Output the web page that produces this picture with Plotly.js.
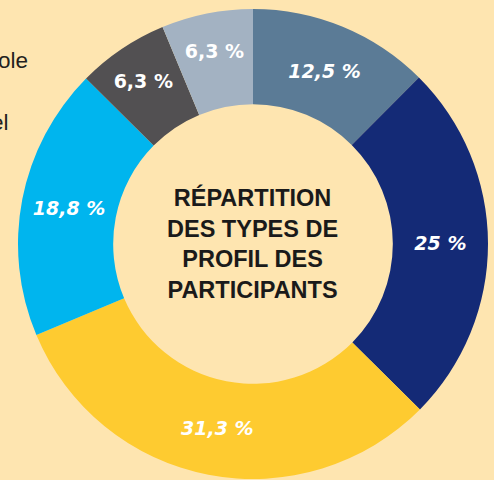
<!DOCTYPE html>
<html>
<head>
<meta charset="utf-8">
<script src="https://cdn.plot.ly/plotly-3.0.1.min.js"></script>
<style>html,body{margin:0;padding:0;background:#fee5b0;}#chart{width:494px;height:480px;}</style>
</head>
<body>
<div id="chart"></div>
<script>
const categories = ["Profil A", "Profil B", "Profil C", "Profil D", "Profil E", "Profil F"];
const values = [12.5, 25, 31.3, 18.8, 6.3, 6.3];
const valueLabels = ["12,5 %", "25 %", "31,3 %", "18,8 %", "6,3 %", "6,3 %"];
const colors = ["#5b7b96", "#142a76", "#fecb30", "#00b5ee", "#525052", "#a3b2c2"];
const centerTitle = ["RÉPARTITION", "DES TYPES DE", "PROFIL DES", "PARTICIPANTS"];
const sideTexts = ["ole", "el"];

const texts = valueLabels.map((t, i) => i >= 4 ? t : "<i>" + t + "</i>");

const W = 494, H = 480, cx = 253, cy = 244, R = 235;

const trace = {
  type: "pie",
  labels: categories,
  values: values,
  text: texts,
  textinfo: "text",
  texttemplate: "%{text}",
  textposition: "inside",
  insidetextorientation: "horizontal",
  sort: false,
  direction: "clockwise",
  rotation: 0,
  hole: 0.595,
  marker: {colors: colors, line: {width: 0}},
  textfont: {family: "DejaVu Sans, Liberation Sans, sans-serif", size: 19, color: "#ffffff", weight: "bold"},
  domain: {x: [(cx - R) / W, (cx + R) / W], y: [(H - cy - R) / H, (H - cy + R) / H]},
  showlegend: false,
  hoverinfo: "label+text"
};

const annotations = [
  {
    text: "<b>" + centerTitle.join("<br>") + "</b>",
    x: (cx - 1) / W, y: (H - cy + 1) / H, xref: "paper", yref: "paper",
    xanchor: "center", yanchor: "middle", showarrow: false,
    font: {family: "Liberation Sans, Arial, sans-serif", size: 23.5, color: "#1a1a1a"}
  },
  {
    text: sideTexts[0], x: 30 / W, y: (H - 60) / H, xref: "paper", yref: "paper",
    xanchor: "right", yanchor: "middle", showarrow: false,
    font: {family: "Liberation Sans, Arial, sans-serif", size: 22.5, color: "#231f20"}
  },
  {
    text: sideTexts[1], x: 11 / W, y: (H - 122) / H, xref: "paper", yref: "paper",
    xanchor: "right", yanchor: "middle", showarrow: false,
    font: {family: "Liberation Sans, Arial, sans-serif", size: 22.5, color: "#231f20"}
  }
];

const layout = {
  width: W, height: H,
  margin: {l: 0, r: 0, t: 0, b: 0},
  paper_bgcolor: "#fee5b0",
  plot_bgcolor: "#fee5b0",
  annotations: annotations,
  showlegend: false
};

Plotly.newPlot("chart", [trace], layout, {displayModeBar: false, staticPlot: true});
</script>
</body>
</html>
